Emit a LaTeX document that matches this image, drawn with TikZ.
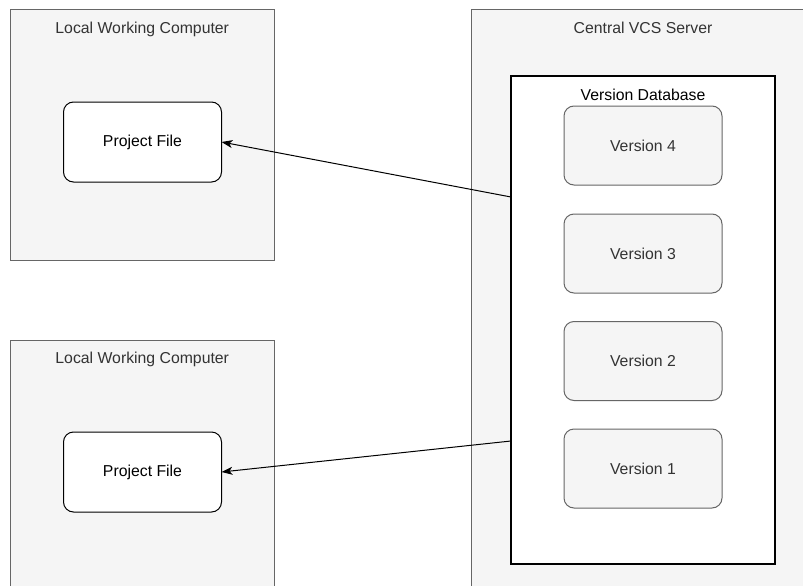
\documentclass[tikz,border=0pt]{standalone}
\usepackage{fontspec}
\setmainfont{Liberation Sans}
\usetikzlibrary{arrows.meta,positioning}
\definecolor{groupfill}{HTML}{F5F5F5}
\definecolor{groupline}{HTML}{666666}
\definecolor{grouptext}{HTML}{333333}

\begin{document}
\begin{tikzpicture}[
        x=1pt, y=-1pt,
        font=\fontsize{15.8}{18}\selectfont,
        group/.style={draw=groupline, fill=groupfill, line width=1pt, inner sep=0pt, outer sep=0pt},
        grouplabel/.style={text=grouptext, inner sep=0pt, outer sep=0pt, text height=11.5pt, text depth=3.3pt},
        dbbox/.style={draw=black, fill=white, line width=1.1pt, minimum width=264pt, minimum height=488pt, inner sep=0pt, outer sep=0pt},
        filebox/.style={draw=black, fill=white, line width=1pt, rounded corners=10pt, minimum width=158pt, minimum height=80pt, outer sep=0pt},
        versionbox/.style={draw=groupline, fill=groupfill, text=grouptext, line width=1pt, rounded corners=10pt, minimum width=158pt, minimum height=79pt, outer sep=0pt},
        link/.style={draw=black, line width=1pt, -{Stealth[length=11pt, width=8pt, inset=3pt]}}
    ]

    \useasboundingbox (0,0) rectangle (803,586);
    \fill[white] (0,0) rectangle (803,586);
    \clip (0,0) rectangle (803,586);

    % groups
    \node[group, minimum width=263.5pt, minimum height=250pt] (lwcA) at (142.25,135) {};
    \node[group, minimum width=263.5pt, minimum height=300pt] (lwcB) at (142.25,490) {};
    \node[group, minimum width=400pt, minimum height=640pt] (vcs) at (671,330) {};

    % version database
    \node[dbbox] (db) at (643,320) {};
    \coordinate (vcstop) at (vcs.north -| db.north);

    \node[grouplabel, below=12pt of lwcA.north] (lwcAlabel) {Local Working Computer};
    \node[grouplabel, below=12pt of lwcB.north] (lwcBlabel) {Local Working Computer};
    \node[grouplabel, below=12pt of vcstop] (vcslabel) {Central VCS Server};
    \node[grouplabel, text=black, below=13pt of db.north] (dblabel) {Version Database};

    \foreach \n/\y in {4/145.5, 3/253.5, 2/361, 1/468.5}
        \node[versionbox] (v\n) at (643,\y) {Version \n};

    % working copies
    \node[filebox] (pfA) at (142.5,142) {Project File};
    \node[filebox] (pfB) at (142.5,472) {Project File};

    \coordinate (dbA) at (db.west |- 0,197);
    \coordinate (dbB) at (db.west |- 0,441);

    \draw[link] (dbA) -- (pfA.east);
    \draw[link] (dbB) -- (pfB.east);
\end{tikzpicture}
\end{document}
